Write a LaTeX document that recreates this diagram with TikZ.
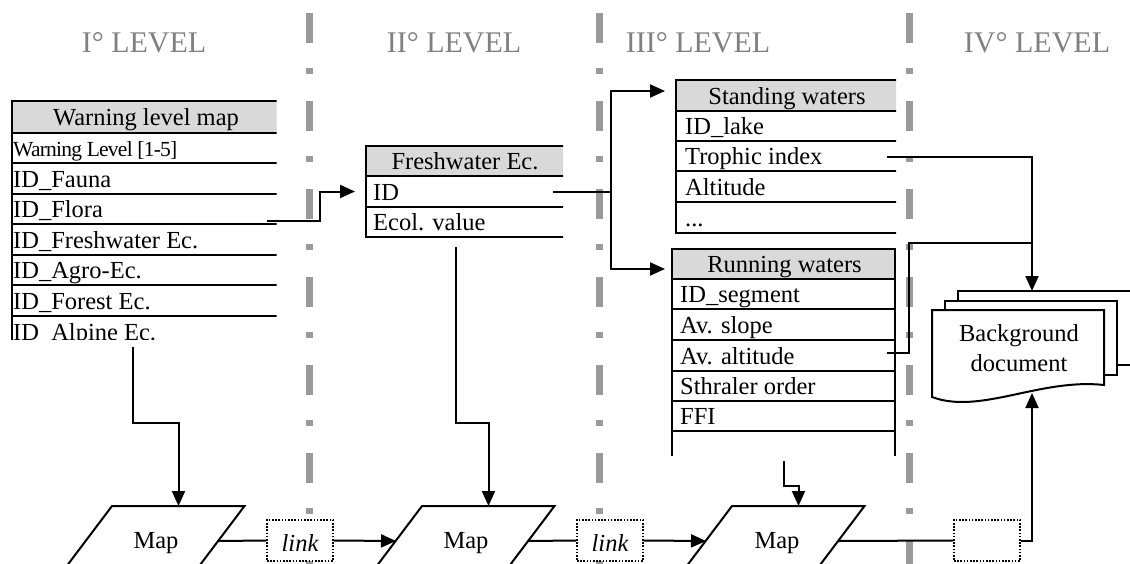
\documentclass[tikz,border=0pt]{standalone}
\usepackage{fontspec}
\setmainfont{Liberation Serif}
\newfontfamily\tightserif[LetterSpace=-3.5]{Liberation Serif}
\usetikzlibrary{arrows.meta}

\definecolor{divgray}{HTML}{9A9A9A}
\definecolor{levelgray}{HTML}{808080}
\definecolor{headfill}{HTML}{D9D9D9}

\begin{document}
\begin{tikzpicture}[x=1pt,y=-1pt,
  txt/.style={inner sep=0pt, font=\fontsize{24.5}{30}\selectfont},
  cell/.style={txt, anchor=base west},
  headcell/.style={txt, anchor=base},
  level/.style={text=levelgray, inner sep=0pt, anchor=base, font=\fontsize{30}{34}\selectfont},
  rule/.style={line width=2pt},
  conn/.style={line width=2pt},
  arr/.style={conn, -{Triangle[length=15pt,width=13pt]}},
  divider/.style={line width=7pt, draw=divgray, dash pattern=on 30pt off 25pt on 6pt off 27pt},
  linkbox/.style={draw, line width=1.6pt, dash pattern=on 1.6pt off 1.6pt, fill=white,
    minimum width=66pt, minimum height=41pt, inner sep=0pt},
  linktext/.style={txt, anchor=base, font=\fontsize{24.5}{30}\selectfont\itshape},
  page/.style={draw, fill=white, line width=2pt},
  mapshape/.style={draw, fill=white, line width=2pt}
]
\clip (0,0) rectangle (1130,563);

% level dividers
\foreach \x in {309,599,909} \draw[divider] (\x,13) -- (\x,620);

% level titles
\node[level] (lv1) at (144,52) {I° LEVEL};
\node[level] (lv2) at (454,52) {II° LEVEL};
\node[level] (lv3) at (698,52) {III° LEVEL};
\node[level] (lv4) at (1037,52) {IV° LEVEL};

% ---------------- Warning level map ----------------
\begin{scope}
  \clip (0,0) rectangle (276.5,339);
  \fill[headfill] (12,101) rectangle (280,133);
  \foreach \y in {101,133,163,194,224,255,285,316} \draw[rule] (11,\y) -- (280,\y);
  \draw[rule] (12,100) -- (12,350);
  \node[headcell] (wtitle) at (146,125.5) {Warning level map};
  \node[cell, font=\tightserif\fontsize{21.5}{26}\selectfont] (wlevel) at (13,156) {Warning Level [1-5]};
  \node[cell] (wfauna) at (13,187) {ID\_Fauna};
  \node[cell] (wflora) at (13,217.5) {ID\_Flora};
  \node[cell] (wfresh) at (13,248) {ID\_Freshwater Ec.};
  \node[cell] (wagro) at (13,278.5) {ID\_Agro-Ec.};
  \node[cell] (wforest) at (13,309) {ID\_Forest Ec.};
  \node[cell] (walpine) at (13,340) {ID\_Alpine Ec.};
\end{scope}

% ---------------- Freshwater Ec. ----------------
\begin{scope}
  \clip (0,0) rectangle (563,600);
  \fill[headfill] (366,146) rectangle (570,176);
  \foreach \y in {146,176,207,237} \draw[rule] (365,\y) -- (570,\y);
  \draw[rule] (366,145) -- (366,238);
  \node[headcell] (ftitle) at (465,169.5) {Freshwater Ec.};
  \node[cell] (fid) at (373,200.5) {ID};
  \node[cell] (fval) at (373,230.5) {Ecol. value};
\end{scope}

% ---------------- Standing waters ----------------
\begin{scope}
  \clip (0,0) rectangle (896,600);
  \fill[headfill] (676,80) rectangle (900,111);
  \foreach \y in {80,111,141,171,202,233} \draw[rule] (675,\y) -- (900,\y);
  \draw[rule] (676,79) -- (676,234);
  \node[headcell] (stitle) at (787,104) {Standing waters};
  \node[cell] (slake) at (685,134.5) {ID\_lake};
  \node[cell] (strophic) at (685,164.5) {Trophic index};
  \node[cell] (salt) at (685,195) {Altitude};
  \node[cell] (sdots) at (685,226) {...};
\end{scope}

% ---------------- Running waters ----------------
\begin{scope}
  \clip (0,0) rectangle (1130,455);
  \fill[headfill] (672,249) rectangle (895,279);
  \foreach \y in {249,279,309,340,371,401,431} \draw[rule] (671,\y) -- (896,\y);
  \draw[rule] (672,248) -- (672,470);
  \draw[rule] (895,248) -- (895,470);
  \node[headcell] (rtitle) at (784.5,272.5) {Running waters};
  \node[cell] (rseg) at (680,302.5) {ID\_segment};
  \node[cell] (rslope) at (680,333) {Av. slope};
  \node[cell] (ralt) at (680,364) {Av. altitude};
  \node[cell] (rorder) at (680,394.5) {Sthraler order};
  \node[cell] (rffi) at (680,424.5) {FFI};
\end{scope}

% ---------------- Background document ----------------
\draw[page] (958,291) rectangle (1145,365);
\draw[page] (945,300.5) rectangle (1117,375);
\draw[page] (932,310) -- (1104,310) -- (1104,385)
  .. controls (1040,378) and (980,415) .. (932,397) -- cycle;
\node[txt, align=center, font=\fontsize{24.5}{30}\selectfont] (doc) at (1019,348) {Background\\document};

% ---------------- Maps and links ----------------
\foreach \l in {112,422,732}{
  \draw[mapshape] (\l,506) -- ++(132.5,0) -- ++(-52.8,70) -- ++(-132.5,0) -- cycle;
}
\node[txt, anchor=base] (map1) at (156,548) {Map};
\node[txt, anchor=base] (map2) at (466,548) {Map};
\node[txt, anchor=base] (map3) at (777,548) {Map};
\node[linkbox] (link1) at (300,540.5) {};
\node[linkbox] (link2) at (610,540.5) {};
\node[linkbox] (link3) at (987,540.5) {};
\node[linktext] (link1t) at (link1.center |- 0,551) {link};
\node[linktext] (link2t) at (link2.center |- 0,551) {link};

% connector ends
\coordinate (floraout) at (267,221);
\coordinate (fidin) at (355,191.5);
\coordinate (fidout) at (553,191.5);
\coordinate (sin) at (665,91);
\coordinate (rin) at (665,269);
\coordinate (wbottom) at (133,347);
\coordinate (fbottom) at (456,247);
\coordinate (rbottom) at (784,461);
\coordinate (trophicout) at (887,157);
\coordinate (altout) at (887,353);
\coordinate (doctop) at (1032,291);
\coordinate (docbot) at (1032,393);
\coordinate (map1top) at (178.5,506);
\coordinate (map2top) at (488.5,506);
\coordinate (map3top) at (798.5,506);
\coordinate (map1right) at (218,541);
\coordinate (map2left) at (396,541);
\coordinate (map2right) at (528,541);
\coordinate (map3left) at (706,541);
\coordinate (map3right) at (838,541);

% ---------------- connectors ----------------
\draw[arr] (floraout) -- (320,221) -- (320,191.5) -- (fidin);
\draw[conn] (fidout) -- (611,191.5);
\draw[arr] (611,191.5) |- (sin);
\draw[arr] (611,191.5) |- (rin);
\draw[arr] (trophicout) -| (doctop);
\draw[conn] (altout) -- (909,353) |- (1032,243);
\draw[arr] (wbottom) -- (133,423) -| (map1top);
\draw[arr] (fbottom) -- (456,423) -| (map2top);
\draw[arr] (rbottom) -- (784,486) -| (map3top);
\draw[conn] (map1right) -- (link1.west);
\draw[arr] (link1.east) -- (map2left);
\draw[conn] (map2right) -- (link2.west);
\draw[arr] (link2.east) -- (map3left);
\draw[conn] (map3right) -- (link3.west);
\draw[arr] (link3.east) -| (docbot);
\end{tikzpicture}
\end{document}
